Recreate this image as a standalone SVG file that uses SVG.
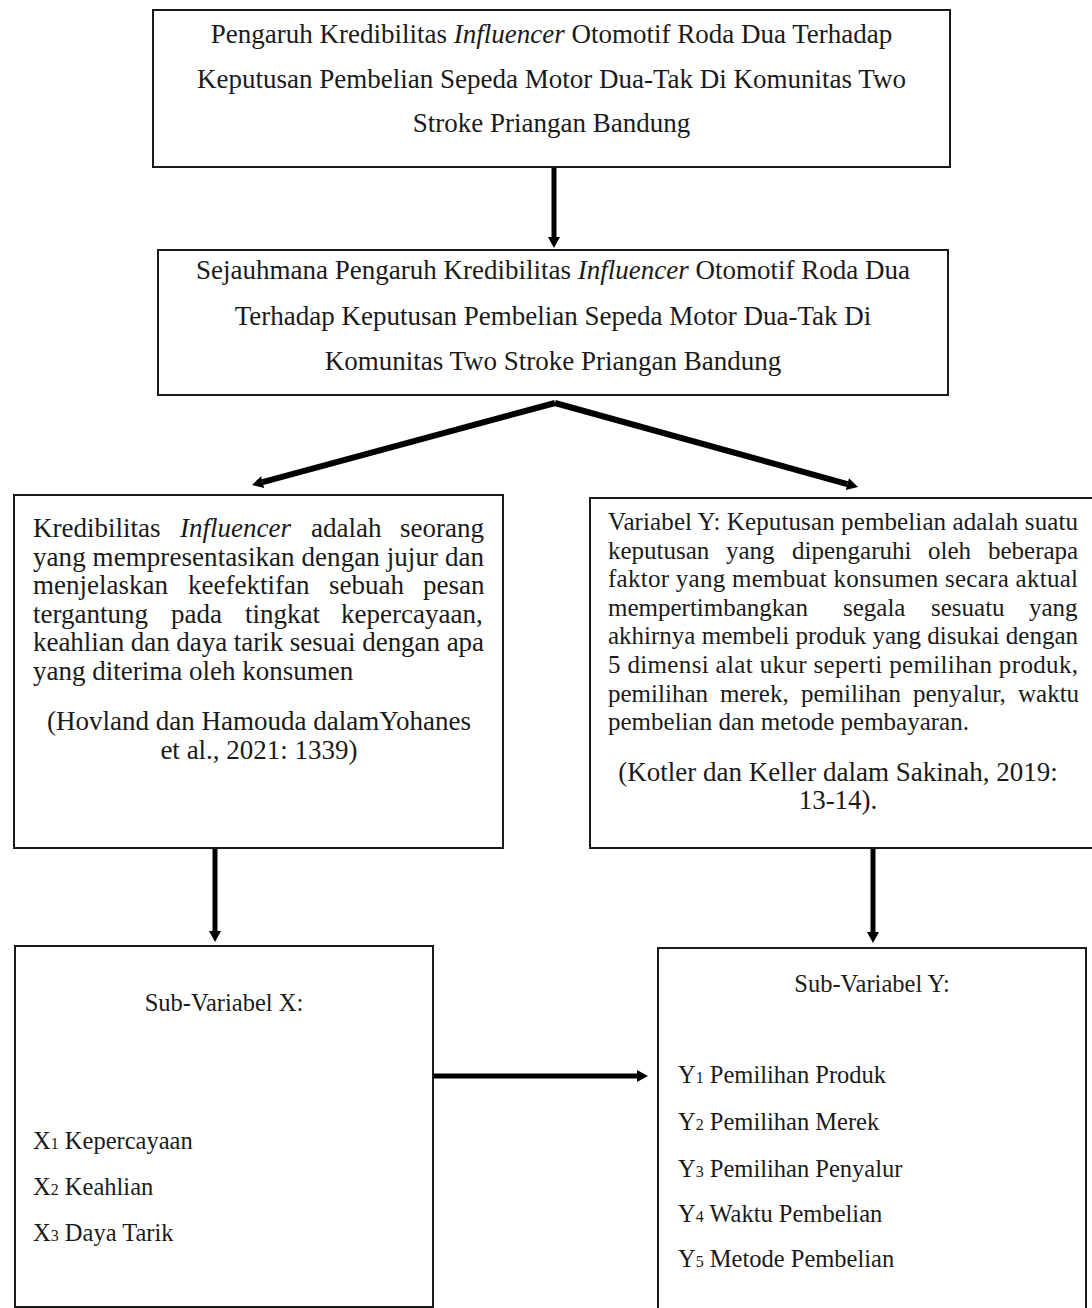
<svg xmlns="http://www.w3.org/2000/svg" width="1092" height="1308" viewBox="0 0 1092 1308">
<style>
.box{fill:#fff;stroke:#1a1a1a;stroke-width:2}
text{font-family:"Liberation Serif","Times New Roman",serif;fill:#1a1a1a}
.t1{font-size:27px;text-anchor:middle}
.b3{font-size:27px}
.b4{font-size:25px}
.sub{font-size:24.5px}
.c{text-anchor:middle}
.i{font-style:italic}
.s{font-size:16px}
.conn{stroke:#000;stroke-width:5;fill:none}
.diag{stroke-width:6}
</style>
<defs>
<marker id="ah" markerUnits="userSpaceOnUse" markerWidth="11" markerHeight="12" refX="0" refY="6" orient="auto" overflow="visible">
<path d="M0,0 L11,6 L0,12 z" fill="#000"/>
</marker>
</defs>

<g id="connectors">
<line class="conn" x1="554" y1="167" x2="554" y2="237" marker-end="url(#ah)"/>
<line class="conn diag" x1="555" y1="403" x2="262.6" y2="482.1" marker-end="url(#ah)"/>
<line class="conn diag" x1="555" y1="403" x2="847.4" y2="484.1" marker-end="url(#ah)"/>
<line class="conn" x1="215" y1="848" x2="215" y2="931" marker-end="url(#ah)"/>
<line class="conn" x1="873" y1="848" x2="873" y2="932" marker-end="url(#ah)"/>
<line class="conn" x1="433" y1="1076" x2="637" y2="1076" marker-end="url(#ah)"/>
</g>

<g id="node-judul">
<rect class="box" x="153" y="10" width="797" height="157"/>
<text class="t1" x="551.5" y="43">Pengaruh Kredibilitas <tspan class="i">Influencer</tspan> Otomotif Roda Dua Terhadap</text>
<text class="t1" x="551.5" y="88">Keputusan Pembelian Sepeda Motor Dua-Tak Di Komunitas Two</text>
<text class="t1" x="551.5" y="132">Stroke Priangan Bandung</text>
</g>

<g id="node-rumusan">
<rect class="box" x="158" y="250" width="790" height="145"/>
<text class="t1" x="553" y="279">Sejauhmana Pengaruh Kredibilitas <tspan class="i">Influencer</tspan> Otomotif Roda Dua</text>
<text class="t1" x="553" y="325">Terhadap Keputusan Pembelian Sepeda Motor Dua-Tak Di</text>
<text class="t1" x="553" y="370">Komunitas Two Stroke Priangan Bandung</text>
</g>

<g id="node-variabel-x">
<rect class="box" x="14" y="495" width="489" height="353"/>
<text class="b3" y="537"><tspan x="33">Kredibilitas</tspan><tspan x="180" class="i">Influencer</tspan><tspan x="311">adalah</tspan><tspan x="400">seorang</tspan></text>
<text class="b3" x="33" y="565.6" textLength="451" lengthAdjust="spacing">yang mempresentasikan dengan jujur dan</text>
<text class="b3" y="594.2"><tspan x="33">menjelaskan</tspan><tspan x="188">keefektifan</tspan><tspan x="329">sebuah</tspan><tspan x="423">pesan</tspan></text>
<text class="b3" y="622.8"><tspan x="33">tergantung</tspan><tspan x="171">pada</tspan><tspan x="245">tingkat</tspan><tspan x="341">kepercayaan,</tspan></text>
<text class="b3" x="33" y="651.4" textLength="451" lengthAdjust="spacing">keahlian dan daya tarik sesuai dengan apa</text>
<text class="b3" x="33" y="680">yang diterima oleh konsumen</text>
<text class="b3 c" x="259" y="730">(Hovland dan Hamouda dalamYohanes</text>
<text class="b3 c" x="259" y="759">et al., 2021: 1339)</text>
</g>

<g id="node-variabel-y">
<rect class="box" x="590" y="498" width="510" height="350"/>
<text class="b4" x="608" y="530" textLength="470" lengthAdjust="spacing">Variabel Y: Keputusan pembelian adalah suatu</text>
<text class="b4" y="558.6"><tspan x="608">keputusan</tspan><tspan x="726">yang</tspan><tspan x="792">dipengaruhi</tspan><tspan x="928">oleh</tspan><tspan x="988">beberapa</tspan></text>
<text class="b4" x="608" y="587.2" textLength="470" lengthAdjust="spacing">faktor yang membuat konsumen secara aktual</text>
<text class="b4" y="615.8"><tspan x="608">mempertimbangkan</tspan><tspan x="843">segala</tspan><tspan x="931">sesuatu</tspan><tspan x="1029">yang</tspan></text>
<text class="b4" x="608" y="644.4" textLength="470" lengthAdjust="spacing">akhirnya membeli produk yang disukai dengan</text>
<text class="b4" x="608" y="673" textLength="470" lengthAdjust="spacing">5 dimensi alat ukur seperti pemilihan produk,</text>
<text class="b4" y="701.6"><tspan x="608">pemilihan</tspan><tspan x="720">merek,</tspan><tspan x="801">pemilihan</tspan><tspan x="913">penyalur,</tspan><tspan x="1018">waktu</tspan></text>
<text class="b4" x="608" y="730.2">pembelian dan metode pembayaran.</text>
<text class="b3 c" x="838" y="781">(Kotler dan Keller dalam Sakinah, 2019:</text>
<text class="b3 c" x="838" y="809">13-14).</text>
</g>

<g id="node-sub-x">
<rect class="box" x="15" y="946" width="418" height="361"/>
<text class="sub c" x="224" y="1011">Sub-Variabel X:</text>
<text class="sub" x="33" y="1149">X<tspan class="s">1</tspan> Kepercayaan</text>
<text class="sub" x="33" y="1195">X<tspan class="s">2</tspan> Keahlian</text>
<text class="sub" x="33" y="1241">X<tspan class="s">3</tspan> Daya Tarik</text>
</g>

<g id="node-sub-y">
<rect class="box" x="658" y="948" width="428" height="380"/>
<text class="sub c" x="872" y="992">Sub-Variabel Y:</text>
<text class="sub" x="678" y="1083">Y<tspan class="s">1</tspan> Pemilihan Produk</text>
<text class="sub" x="678" y="1130">Y<tspan class="s">2</tspan> Pemilihan Merek</text>
<text class="sub" x="678" y="1177">Y<tspan class="s">3</tspan> Pemilihan Penyalur</text>
<text class="sub" x="678" y="1222">Y<tspan class="s">4</tspan> Waktu Pembelian</text>
<text class="sub" x="678" y="1267">Y<tspan class="s">5</tspan> Metode Pembelian</text>
</g>
</svg>
